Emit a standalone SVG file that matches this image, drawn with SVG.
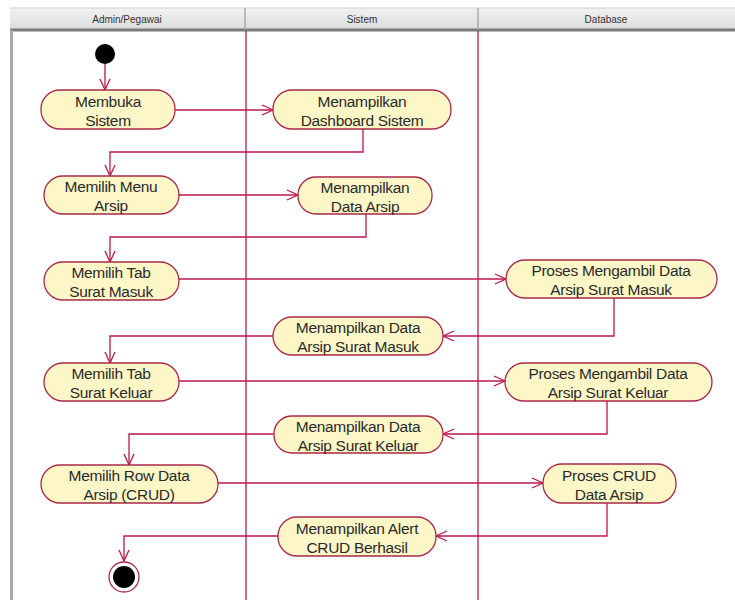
<svg xmlns="http://www.w3.org/2000/svg" width="735" height="600" viewBox="0 0 735 600">
<style>
.hdr{font-family:"Liberation Sans",Arial,sans-serif;font-size:10px;fill:#333;text-anchor:middle}
.lbl{font-family:"Liberation Sans",Arial,sans-serif;font-size:15.5px;fill:#2a2a2a;text-anchor:middle;letter-spacing:-0.3px}
.act{fill:#fdf7c8;stroke:#a8284a;stroke-width:1.3}
.lane{stroke:#b8184c;stroke-width:1.3;fill:none}
.con{stroke:#b8184c;stroke-width:1.3;fill:none;marker-end:url(#arr)}
</style>
<defs>
<linearGradient id="hg" x1="0" y1="0" x2="0" y2="1">
<stop offset="0" stop-color="#f2f2f2"/><stop offset="1" stop-color="#dcdcdc"/>
</linearGradient>
<marker id="arr" markerWidth="14" markerHeight="12" refX="12" refY="6" orient="auto" markerUnits="userSpaceOnUse">
<polyline points="1,1 12,6 1,11" fill="none" stroke="#b8184c" stroke-width="1.3"/>
</marker>
</defs>
<rect x="0" y="0" width="735" height="600" fill="#ffffff"/>
<g id="header">
<rect x="10" y="8" width="725" height="22" fill="url(#hg)"/>
<line x1="10" y1="8" x2="735" y2="8" stroke="#cfcfcf"/>
<line x1="10" y1="30" x2="735" y2="30" stroke="#7a7a7a" stroke-width="3"/>
<line x1="245" y1="8" x2="245" y2="30" stroke="#9a9a9a" stroke-width="1.2"/>
<line x1="478" y1="8" x2="478" y2="30" stroke="#9a9a9a" stroke-width="1.2"/>
<text class="hdr" x="127" y="23">Admin/Pegawai</text>
<text class="hdr" x="362" y="23">Sistem</text>
<text class="hdr" x="606" y="23">Database</text>
</g>
<g id="lanes">
<line x1="11.5" y1="30" x2="11.5" y2="600" stroke="#a8a8a8" stroke-width="3"/>
<line class="lane" x1="246" y1="31" x2="246" y2="600"/>
<line class="lane" x1="478" y1="31" x2="478" y2="600"/>
</g>
<g id="connectors">
<line class="con" x1="105" y1="64" x2="105" y2="90"/>
<line class="con" x1="175" y1="110" x2="273" y2="110"/>
<polyline class="con" points="363,129 363,152 110,152 110,176"/>
<line class="con" x1="179" y1="195" x2="298" y2="195"/>
<polyline class="con" points="366,214 366,237 110,237 110,262"/>
<line class="con" x1="179" y1="279" x2="506" y2="279"/>
<polyline class="con" points="614,298 614,336 443,336"/>
<polyline class="con" points="273,336 110,336 110,363"/>
<line class="con" x1="179" y1="381" x2="505" y2="381"/>
<polyline class="con" points="607,401 607,434 443,434"/>
<polyline class="con" points="274,434 129,434 129,465"/>
<line class="con" x1="218" y1="483" x2="543" y2="483"/>
<polyline class="con" points="607,503 607,536 436,536"/>
<polyline class="con" points="278,536 124,536 124,561"/>
</g>
<g id="start"><circle cx="105" cy="54" r="10" fill="#000"/></g>
<g id="n1"><rect class="act" x="41" y="90" width="134" height="39" rx="19" ry="19"/><text class="lbl" x="108" y="107">Membuka</text><text class="lbl" x="108" y="126">Sistem</text></g>
<g id="n2"><rect class="act" x="273" y="90" width="178" height="39" rx="19" ry="19"/><text class="lbl" x="362" y="107">Menampilkan</text><text class="lbl" x="362" y="126">Dashboard Sistem</text></g>
<g id="n3"><rect class="act" x="44" y="176" width="135" height="38" rx="19" ry="19"/><text class="lbl" x="111" y="192">Memilih Menu</text><text class="lbl" x="111" y="211">Arsip</text></g>
<g id="n4"><rect class="act" x="298" y="177" width="134" height="37" rx="18" ry="18"/><text class="lbl" x="365" y="193">Menampilkan</text><text class="lbl" x="365" y="212">Data Arsip</text></g>
<g id="n5"><rect class="act" x="44" y="262" width="135" height="38" rx="19" ry="19"/><text class="lbl" x="111" y="278">Memilih Tab</text><text class="lbl" x="111" y="297">Surat Masuk</text></g>
<g id="n6"><rect class="act" x="506" y="260" width="211" height="38" rx="19" ry="19"/><text class="lbl" x="611" y="276">Proses Mengambil Data</text><text class="lbl" x="611" y="295">Arsip Surat Masuk</text></g>
<g id="n7"><rect class="act" x="273" y="317" width="170" height="38" rx="19" ry="19"/><text class="lbl" x="358" y="333">Menampilkan Data</text><text class="lbl" x="358" y="352">Arsip Surat Masuk</text></g>
<g id="n8"><rect class="act" x="44" y="363" width="135" height="38" rx="19" ry="19"/><text class="lbl" x="111" y="379">Memilih Tab</text><text class="lbl" x="111" y="398">Surat Keluar</text></g>
<g id="n9"><rect class="act" x="505" y="363" width="207" height="38" rx="19" ry="19"/><text class="lbl" x="608" y="379">Proses Mengambil Data</text><text class="lbl" x="608" y="398">Arsip Surat Keluar</text></g>
<g id="n10"><rect class="act" x="274" y="416" width="169" height="37" rx="18" ry="18"/><text class="lbl" x="358" y="432">Menampilkan Data</text><text class="lbl" x="358" y="451">Arsip Surat Keluar</text></g>
<g id="n11"><rect class="act" x="41" y="465" width="177" height="38" rx="19" ry="19"/><text class="lbl" x="129" y="481">Memilih Row Data</text><text class="lbl" x="129" y="500">Arsip (CRUD)</text></g>
<g id="n12"><rect class="act" x="543" y="464" width="133" height="39" rx="19" ry="19"/><text class="lbl" x="609" y="481">Proses CRUD</text><text class="lbl" x="609" y="500">Data Arsip</text></g>
<g id="n13"><rect class="act" x="278" y="517" width="158" height="39" rx="19" ry="19"/><text class="lbl" x="357" y="534">Menampilkan Alert</text><text class="lbl" x="357" y="553">CRUD Berhasil</text></g>
<g id="end"><circle cx="124" cy="577" r="15" fill="#fff" stroke="#a8284a" stroke-width="1.3"/><circle cx="124" cy="577" r="11" fill="#000"/></g>
</svg>
